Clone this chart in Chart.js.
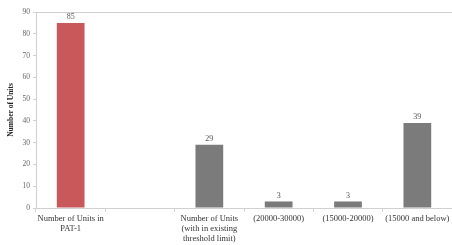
<!DOCTYPE html>
<html>
<head>
<meta charset="utf-8">
<script src="https://cdn.jsdelivr.net/npm/chart.js@4.4.0/dist/chart.umd.min.js"></script>
<style>
  html, body { margin: 0; padding: 0; background: #fff; overflow: hidden; }
  #wrap { width: 452px; height: 245px; }
</style>
</head>
<body>
<div id="wrap"><canvas id="grafico"></canvas></div>
<script>
// Dados do gráfico
const categorias = [
    ['Number of Units in', 'PAT-1'],
    '',
    ['Number of Units', '(with in existing', 'threshold limit)'],
    '(20000-30000)',
    '(15000-20000)',
    '(15000 and below)'
];
const valores = [85, null, 29, 3, 3, 39];
const coresBarras = ['#c9585a', '#7b7b7b', '#7b7b7b', '#7b7b7b', '#7b7b7b', '#7b7b7b'];
const ticksY = [0, 10, 20, 30, 40, 50, 60, 70, 80, 90];

const fonteSerif = "'Liberation Serif', 'DejaVu Serif', serif";

// Plugin simples para escrever o valor em cima de cada barra
const rotulosBarras = {
    id: 'rotulosBarras',
    afterDatasetsDraw(chart) {
        const ctx = chart.ctx;
        const meta = chart.getDatasetMeta(0);
        ctx.save();
        ctx.font = "8px " + fonteSerif;
        ctx.fillStyle = '#555';
        ctx.textAlign = 'center';
        ctx.textBaseline = 'bottom';
        meta.data.forEach((barra, i) => {
            if (valores[i] == null) return;
            ctx.fillText(valores[i], barra.x, barra.y - 2);
        });
        ctx.restore();
    }
};

document.addEventListener('DOMContentLoaded', () => {
    const ctx = document.getElementById('grafico');
    new Chart(ctx, {
        type: 'bar',
        data: {
            labels: categorias,
            datasets: [{
                data: valores,
                backgroundColor: coresBarras,
                barPercentage: 0.4,
                categoryPercentage: 1.0
            }]
        },
        options: {
            responsive: true,
            maintainAspectRatio: false,
            animation: false,
            layout: { padding: { top: 12, right: 0, left: 7, bottom: 0 } },
            plugins: {
                legend: { display: false },
                tooltip: { enabled: false }
            },
            scales: {
                x: {
                    grid: {
                        display: true,
                        drawOnChartArea: false,
                        color: '#d0d0d0',
                        tickLength: 4
                    },
                    border: { color: '#d0d0d0' },
                    ticks: {
                        color: '#333',
                        font: { family: fonteSerif, size: 8.5, lineHeight: 1.15 },
                        maxRotation: 0,
                        autoSkip: false,
                        padding: 2
                    },
                    afterFit(scale) { scale.height = 37; }
                },
                y: {
                    min: 0,
                    max: 90,
                    afterBuildTicks(scale) {
                        scale.ticks = ticksY.map(v => ({ value: v }));
                    },
                    grid: {
                        color: (c) => c.tick && c.tick.value === 90 ? '#d0d0d0' : 'rgba(0,0,0,0)',
                        tickLength: 3,
                        drawTicks: true,
                        tickColor: '#d0d0d0'
                    },
                    border: { color: '#d0d0d0' },
                    ticks: {
                        color: '#666',
                        font: { family: fonteSerif, size: 7.5 },
                        padding: 3
                    },
                    title: {
                        display: true,
                        text: 'Number of Units',
                        color: '#222',
                        font: { family: fonteSerif, size: 7.5, weight: 'bold' },
                        padding: 0
                    },
                    afterFit(scale) { scale.width = 29; }
                }
            }
        },
        plugins: [rotulosBarras]
    });
});
</script>
</body>
</html>
